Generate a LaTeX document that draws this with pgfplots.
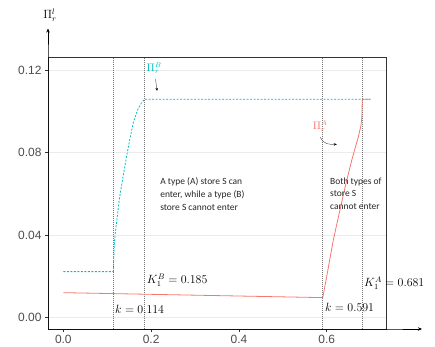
\documentclass[border=0pt]{standalone}
\usepackage{pgfplots}
\pgfplotsset{compat=1.18}
\usepackage{fontspec}
\setmainfont{Liberation Sans}
\newfontfamily\annfont{Carlito}
\usetikzlibrary{arrows.meta}
\definecolor{tealc}{HTML}{00BFC4}
\definecolor{redc}{HTML}{F8766D}
\begin{document}
\begin{tikzpicture}
\begin{axis}[
 scale only axis, width=338bp, height=271.5bp,
 xmin=-0.0349, xmax=0.735, ymin=-0.0055, ymax=0.126,
 xtick={0,0.2,0.4,0.6}, xticklabels={0.0,0.2,0.4,0.6},
 ytick={0,0.04,0.08,0.12}, yticklabels={0.00,0.04,0.08,0.12},
 tick pos=left, tick align=outside, major tick length=3bp,
 tick style={black!80, line width=0.5pt},
 ymajorgrids, grid style={black!8, line width=0.7pt},
 axis line style={black!80, line width=0.7pt},
 ticklabel style={font=\fontsize{12}{14}\selectfont, text=black!70},
 clip=false,
]
% vertical reference lines
\addplot[black!55, line width=0.6pt, dash pattern=on 1bp off 1bp] coordinates {(0.114,-0.0055) (0.114,0.126)};
\addplot[black!55, line width=0.6pt, dash pattern=on 1bp off 1bp] coordinates {(0.185,-0.0055) (0.185,0.126)};
\addplot[black!55, line width=0.6pt, dash pattern=on 1bp off 1bp] coordinates {(0.591,-0.0055) (0.591,0.126)};
\addplot[black!55, line width=0.6pt, dash pattern=on 1bp off 1bp] coordinates {(0.681,-0.0055) (0.681,0.126)};
% Pi_r^B (teal dashed)
\addplot[tealc, line width=0.8pt, dash pattern=on 2bp off 1.5bp] coordinates {
(0,0.0223) (0.114,0.0223) (0.115,0.030) (0.117,0.038) (0.120,0.044) (0.123,0.049)
(0.128,0.058) (0.135,0.067) (0.144,0.078) (0.152,0.087) (0.160,0.095)
(0.170,0.101) (0.178,0.104) (0.185,0.1058) (0.700,0.1058)};
% Pi_r^A (red solid)
\addplot[redc, line width=0.8pt] coordinates {
(0,0.0121) (0.591,0.0097) (0.600,0.020) (0.615,0.0376) (0.630,0.052) (0.642,0.0634)
(0.657,0.0763) (0.672,0.0876) (0.678,0.093) (0.680,0.097) (0.681,0.1058) (0.699,0.1058)};
% curve labels
\node[text=tealc, font=\fontsize{10.5}{12}\selectfont] at (axis cs:0.207,0.1208) {$\Pi_r^B$};
\draw[black!60, line width=0.5pt, -{Stealth[length=3bp,width=2.5bp,black]}] (axis cs:0.210,0.1156) -- (axis cs:0.2135,0.1098);
\node[text=redc, font=\fontsize{10.5}{12}\selectfont] at (axis cs:0.585,0.0927) {$\Pi_r^A$};
\draw[black!60, line width=0.5pt, -{Stealth[length=3bp,width=2.5bp,black]}] (axis cs:0.585,0.0874) to[out=-70,in=185] (axis cs:0.623,0.084);
% region texts
\node[anchor=north west, align=left, inner sep=0pt, font=\annfont\fontsize{9.5}{13}\selectfont, text=black!85] at (axis cs:0.2205,0.0680) {A type (A) store S can\\enter, while a type (B)\\store S cannot enter};
\node[anchor=north west, align=left, inner sep=0pt, font=\annfont\fontsize{9.5}{13}\selectfont, text=black!85] at (axis cs:0.6075,0.0680) {Both types of\\store S\\cannot enter};
% k labels
\node[anchor=west, inner sep=0pt, font=\fontsize{12}{14}\selectfont] at (axis cs:0.190,0.0182) {$K_1^B = 0.185$};
\node[anchor=west, inner sep=0pt, font=\fontsize{12}{14}\selectfont] at (axis cs:0.1177,0.0041) {$k = 0.114$};
\node[anchor=west, inner sep=0pt, font=\fontsize{12}{14}\selectfont] at (axis cs:0.596,0.0050) {$k = 0.591$};
\node[anchor=west, inner sep=0pt, font=\fontsize{12}{14}\selectfont] at (axis cs:0.685,0.0166) {$K_1^A = 0.681$};
\coordinate (sw) at (rel axis cs:0,0);
\coordinate (nw) at (rel axis cs:0,1);
\coordinate (se) at (rel axis cs:1,0);
\end{axis}
\draw[black, line width=0.8pt, -{Stealth[length=4bp,width=3.5bp]}] (sw) -- (nw) -- ++(0,29bp);
\draw[black, line width=0.8pt, -{Stealth[length=4bp,width=3.5bp]}] (sw) -- (se) -- ++(36bp,0);
\path (nw) ++(2bp,42bp) node[font=\fontsize{12}{14}\selectfont] {$\Pi_r^l$};
\path (se) ++(45bp,-3bp) node[anchor=west, font=\fontsize{12}{14}\selectfont] {$k$};
\pgfresetboundingbox
\path (sw) ++(-48bp,-18bp) rectangle ++(435bp,347bp);
\end{tikzpicture}
\end{document}
